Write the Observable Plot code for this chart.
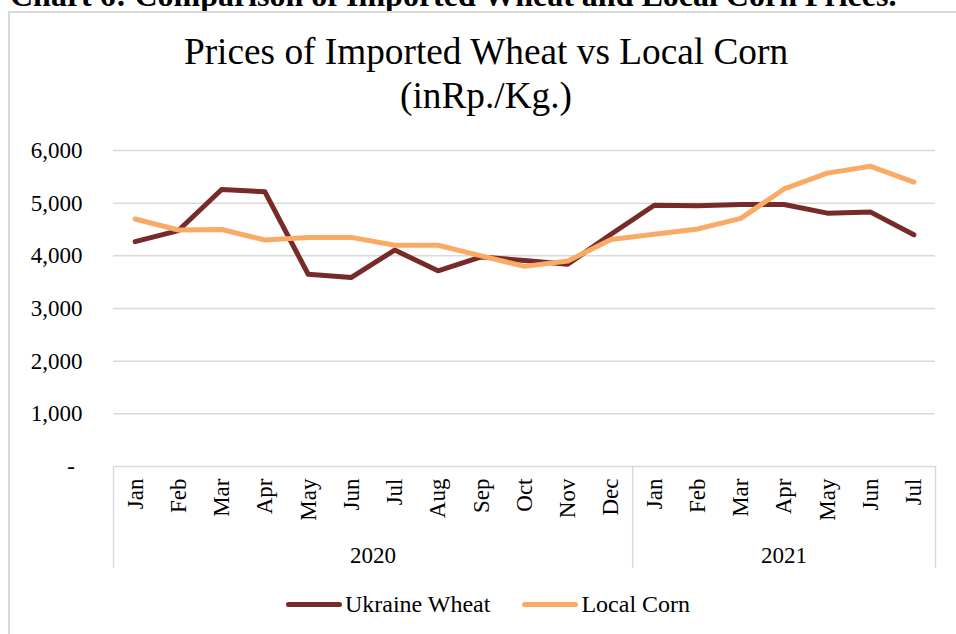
<!DOCTYPE html>
<html>
<head>
<meta charset="utf-8">
<script src="https://cdn.jsdelivr.net/npm/d3@7"></script>
<script src="https://cdn.jsdelivr.net/npm/@observablehq/plot@0.6"></script>
<style>
  html, body { margin: 0; padding: 0; background: #fff; overflow: hidden; }
  body { width: 956px; height: 634px; position: relative; font-family: "Liberation Serif", "Times New Roman", serif; color: #000; }
  #caption { position: absolute; left: 10px; top: -21px; font-size: 32px; font-weight: bold; line-height: 32px; white-space: nowrap; }
  #frame { position: absolute; left: 8px; top: 11px; width: 1000px; height: 700px; border: 2px solid #d9d9d9; box-sizing: border-box; }
  #title { position: absolute; left: 0; width: 972px; top: 30px; text-align: center; font-size: 37.3px; line-height: 44px; }
  #chart { position: absolute; left: 0; top: 130px; }
  #legend { position: absolute; left: 0; width: 976px; top: 590px; display: flex; justify-content: center; font-family: "Liberation Serif", serif; font-size: 24px; line-height: 28px; }
  .item { display: flex; align-items: center; margin: 0 16px; }
  .sw { width: 56px; height: 5px; border-radius: 3px; margin-right: 3px; }
</style>
</head>
<body>
<div id="caption">Chart 6: Comparison of Imported Wheat and Local Corn Prices.</div>
<div id="frame"></div>
<div id="title">Prices of Imported Wheat vs Local Corn<br>(inRp./Kg.)</div>
<div id="chart"></div>
<div id="legend"></div>
<script>
const months = ["Jan","Feb","Mar","Apr","May","Jun","Jul","Aug","Sep","Oct","Nov","Dec","Jan","Feb","Mar","Apr","May","Jun","Jul"];
const years = ["2020", "2021"];
const yearFirst = [0, 12];
const yearLast = [11, 18];
const seriesNames = ["Ukraine Wheat", "Local Corn"];
const seriesColors = ["#772B28", "#F9AB66"];
const wheat = [4270, 4480, 5260, 5215, 3650, 3590, 4110, 3715, 3980, 3910, 3840, 4410, 4960, 4950, 4975, 4975, 4810, 4830, 4400];
const corn  = [4700, 4490, 4500, 4300, 4350, 4350, 4200, 4200, 4000, 3800, 3900, 4310, 4410, 4510, 4710, 5270, 5570, 5700, 5400];
const yTicks = [0, 1000, 2000, 3000, 4000, 5000, 6000];

const rows = [];
months.forEach((m, i) => rows.push({i, series: seriesNames[0], v: wheat[i]}));
months.forEach((m, i) => rows.push({i, series: seriesNames[1], v: corn[i]}));

const boundaries = [yearFirst[0] - 0.5, ...yearLast.map(d => d + 0.5)];
const yearCenters = yearFirst.map((f, k) => (f + yearLast[k]) / 2);
const fmt = d3.format(",");

const plot = Plot.plot({
  width: 956,
  height: 445,
  marginLeft: 113,
  marginRight: 21,
  marginTop: 20,
  marginBottom: 109,
  style: { fontFamily: "Liberation Serif, Times New Roman, serif", fontSize: "23px", color: "#000", background: "transparent", overflow: "visible" },
  x: { type: "linear", domain: [-0.5, months.length - 0.5], label: null },
  y: { domain: [0, 6000], label: null },
  color: { domain: seriesNames, range: seriesColors },
  marks: [
    Plot.gridY(yTicks, { stroke: "#d9d9d9", strokeOpacity: 1, strokeWidth: 1.5 }),
    Plot.axisY(yTicks, {
      label: null, tickSize: 0, tickPadding: 31, fontSize: 23,
      tickFormat: d => d === 0 ? "-\u00a0\u200a" : fmt(d)
    }),
    Plot.axisX(boundaries, { label: null, tickSize: 102, tickFormat: () => "", stroke: "#d9d9d9", strokeOpacity: 1, strokeWidth: 1.5 }),
    Plot.axisX(d3.range(months.length), {
      label: null, tickSize: 0, tickRotate: -90, tickPadding: 12, fontSize: 23,
      tickFormat: i => months[i]
    }),
    Plot.axisX(yearCenters, {
      label: null, tickSize: 0, tickPadding: 80, fontSize: 23,
      tickFormat: d => years[yearCenters.indexOf(d)]
    }),
    Plot.line(rows, { x: "i", y: "v", z: "series", stroke: "series", strokeWidth: 5, strokeLinecap: "round", strokeLinejoin: "round" })
  ]
});
document.getElementById("chart").appendChild(plot);

const legend = document.getElementById("legend");
seriesNames.forEach((name, k) => {
  const item = document.createElement("div");
  item.className = "item";
  const sw = document.createElement("div");
  sw.className = "sw";
  sw.style.background = seriesColors[k];
  const t = document.createElement("span");
  t.textContent = name;
  item.appendChild(sw);
  item.appendChild(t);
  legend.appendChild(item);
});
</script>
</body>
</html>
